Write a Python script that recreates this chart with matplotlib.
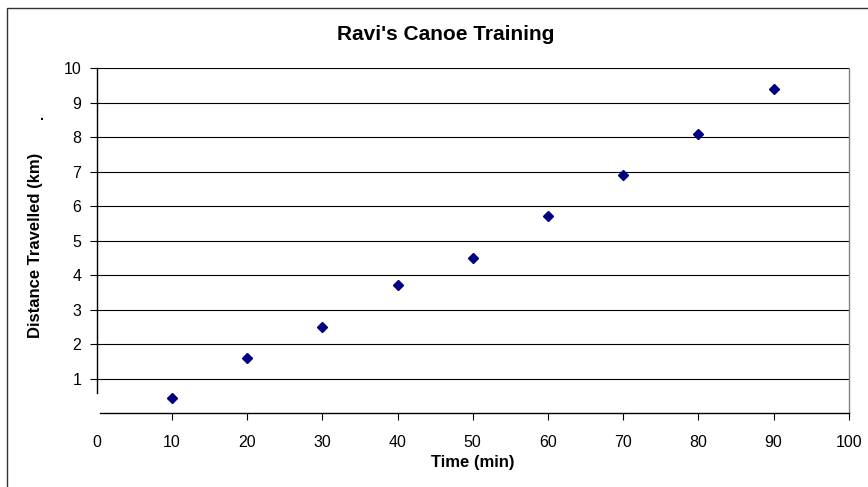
import matplotlib.pyplot as plt
from matplotlib.patches import Rectangle

time_min = [10, 20, 30, 40, 50, 60, 70, 80, 90]
distance_km = [0.45, 1.6, 2.5, 3.7, 4.5, 5.7, 6.9, 8.1, 9.4]
x_ticks = [0, 10, 20, 30, 40, 50, 60, 70, 80, 90, 100]
y_ticks = [1, 2, 3, 4, 5, 6, 7, 8, 9, 10]

plt.rcParams['font.family'] = ['Liberation Sans', 'DejaVu Sans']

fig = plt.figure(figsize=(8.68, 4.87), dpi=100)
ax = fig.add_axes([0.1114, 0.1515, 0.8664, 0.7089])

# outer chart border (runs off the right/bottom edge like the source)
fig.patches.append(Rectangle((6.5 / 868, -0.1), 2.0, 1 - 7.5 / 487 + 0.1,
                             transform=fig.transFigure, fill=False,
                             edgecolor='#333333', linewidth=1.0, zorder=0))

for y in y_ticks:
    ax.axhline(y, color='black', linewidth=0.8, zorder=1)

ax.plot(time_min, distance_km, linestyle='none', marker='D', markersize=5,
        color='#000080', zorder=3)

ax.set_xlim(0, 100)
ax.set_ylim(0, 10)
ax.set_xticks(x_ticks)
ax.set_yticks(y_ticks)
ax.tick_params(axis='both', labelsize=11.5, width=0.8, length=5, direction='out')
ax.tick_params(axis='y', pad=6)
ax.tick_params(axis='x', pad=11)
ax.xaxis.get_major_ticks()[0].tick1line.set_visible(False)

ax.spines['top'].set_visible(False)
ax.spines['left'].set_bounds(0.6, 10)
ax.spines['bottom'].set_bounds(0.5, 100)
ax.spines['right'].set_color('#808080')
for s in ['left', 'bottom', 'right']:
    ax.spines[s].set_linewidth(1.0)

fig.text(446 / 868, 1 - 35 / 487, "Ravi's Canoe Training", ha='center', va='center',
         fontsize=15, fontweight='bold')
fig.text(473 / 868, 1 - 463 / 487, 'Time (min)', ha='center', va='center',
         fontsize=12, fontweight='bold')
fig.text(36 / 868, 1 - 245 / 487, 'Distance Travelled (km)', ha='center', va='center',
         rotation=90, fontsize=12, fontweight='bold')
fig.text(41.7 / 868, 1 - 116 / 487, '.', ha='center', va='center', fontsize=10,
         fontweight='bold')

fig.savefig('out.png', dpi=100)
